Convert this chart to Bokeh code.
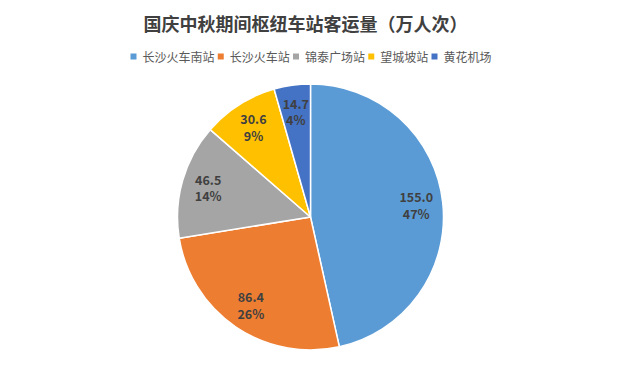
import math
from bokeh.plotting import figure
from bokeh.models import Range1d, ColumnDataSource
from bokeh.core.properties import value
from bokeh.embed import file_html
from bokeh.resources import INLINE

title = "国庆中秋期间枢纽车站客运量（万人次）"
categories = ["长沙火车南站", "长沙火车站", "锦泰广场站", "望城坡站", "黄花机场"]
values = [155.0, 86.4, 46.5, 30.6, 14.7]
colors = ["#5B9BD5", "#ED7D31", "#A5A5A5", "#FFC000", "#4472C4"]

W, H = 605, 350
FONT = "Noto Sans CJK SC"

p = figure(width=W, height=H, output_backend="svg", toolbar_location=None,
           x_range=Range1d(0, W), y_range=Range1d(0, H), min_border=0)
p.axis.visible = False
p.grid.visible = False
p.outline_line_color = None
p.background_fill_color = "white"

cx, cy, r = 310, 133.5, 133
total = sum(values)
starts, ends, lx, ly, vtxt, ptxt = [], [], [], [], [], []
cum = 0.0
for v in values:
    a0 = cum / total
    a1 = (cum + v) / total
    starts.append(math.pi / 2 - 2 * math.pi * a0)
    ends.append(math.pi / 2 - 2 * math.pi * a1)
    mid = (a0 + a1) / 2 * 2 * math.pi
    rl = 0.8 * r
    lx.append(cx + rl * math.sin(mid))
    ly.append(cy + rl * math.cos(mid))
    vtxt.append(f"{v:.1f}")
    ptxt.append(f"{round(v / total * 100)}%")
    cum += v

src = ColumnDataSource(dict(start=starts, end=ends, color=colors, lx=lx, ly=ly,
                            ly1=[y + 8 for y in ly], ly2=[y - 8 for y in ly],
                            vtxt=vtxt, ptxt=ptxt))
p.wedge(x=cx, y=cy, radius=r, start_angle="start", end_angle="end", direction="clock",
        fill_color="color", line_color="white", line_width=1.5, source=src)
for col in ("vtxt", "ptxt"):
    p.text(x="lx", y="ly1" if col == "vtxt" else "ly2", text=col, source=src,
           text_font=value(FONT), text_font_size="12.5px", text_font_style="bold",
           text_color="#404040", text_align="center", text_baseline="middle")

# title
p.text(x=[305], y=[328], text=[title], text_font=value(FONT), text_font_size="18px",
       text_font_style="bold", text_color="#404040", text_align="center",
       text_baseline="middle")

# legend
fs = 12
gap_m_t = 9
gap_t_m = 6.25
widths = [gap_m_t + fs * len(c) for c in categories]
total_w = sum(widths) + gap_t_m * (len(categories) - 1) + 4
x = 310 - total_w / 2 + 4
mx, tx = [], []
for w in widths:
    mx.append(x)
    tx.append(x + gap_m_t)
    x += w + gap_t_m
leg_y = 294
p.scatter(x=mx, y=[leg_y] * len(mx), marker="square", size=6, fill_color=colors,
          line_color=None)
p.text(x=tx, y=[leg_y] * len(tx), text=categories, text_font=value(FONT),
       text_font_size="12px", text_color="#595959", text_align="left",
       text_baseline="middle")

open("out.html", "w").write(file_html(p, INLINE))
